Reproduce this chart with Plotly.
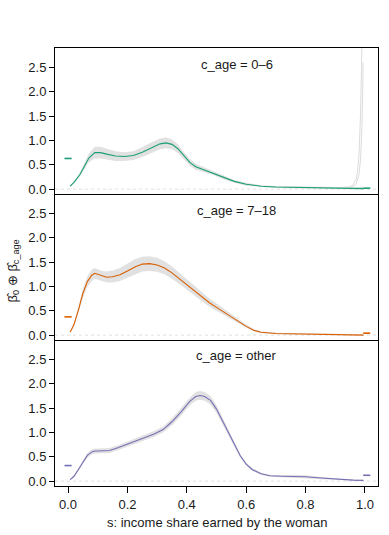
import plotly.graph_objects as go
from plotly.subplots import make_subplots

# ---------------- data ----------------
panel_titles = ["c_age = 0\u20136", "c_age = 7\u201318", "c_age = other"]
colors = ["#1b9e77", "#d95f02", "#7570b3"]

s_top = [0.007, 0.02, 0.04, 0.055, 0.07, 0.09, 0.11, 0.13, 0.16, 0.19, 0.22, 0.25, 0.28, 0.31, 0.33,
         0.35, 0.37, 0.39, 0.41, 0.43, 0.46, 0.49, 0.52, 0.56, 0.60, 0.65, 0.70, 0.75, 0.80, 0.85,
         0.90, 0.95, 0.995]
mean_top = [0.06, 0.14, 0.30, 0.48, 0.64, 0.75, 0.75, 0.72, 0.68, 0.67, 0.69, 0.76, 0.85, 0.93, 0.95,
            0.92, 0.83, 0.68, 0.55, 0.46, 0.39, 0.33, 0.25, 0.16, 0.10, 0.06, 0.045, 0.04, 0.035, 0.03,
            0.02, 0.015, 0.01]
upper_top = [0.07, 0.16, 0.34, 0.55, 0.73, 0.87, 0.87, 0.83, 0.78, 0.76, 0.78, 0.86, 0.96, 1.04, 1.06,
             1.02, 0.92, 0.76, 0.62, 0.52, 0.44, 0.37, 0.29, 0.19, 0.13, 0.08, 0.065, 0.06, 0.055, 0.05,
             0.04, 0.04, 0.05]
lower_top = [0.05, 0.12, 0.26, 0.41, 0.55, 0.63, 0.63, 0.61, 0.58, 0.58, 0.60, 0.66, 0.74, 0.82, 0.84,
             0.82, 0.74, 0.60, 0.48, 0.40, 0.34, 0.29, 0.21, 0.13, 0.07, 0.04, 0.025, 0.02, 0.015, 0.01,
             0.0, 0.0, 0.0]

spike_a_s = [0.90, 0.93, 0.95, 0.96, 0.97, 0.975, 0.98, 0.985, 0.99]
spike_a_v = [0.02, 0.03, 0.05, 0.09, 0.20, 0.35, 0.70, 1.50, 3.00]
spike_b_s = [0.93, 0.96, 0.97, 0.98, 0.985, 0.99, 0.994]
spike_b_v = [0.02, 0.05, 0.10, 0.30, 0.60, 1.30, 2.60]

s_mid = [0.007, 0.02, 0.035, 0.05, 0.065, 0.08, 0.09, 0.10, 0.115, 0.13, 0.15, 0.175, 0.20, 0.225,
         0.25, 0.275, 0.30, 0.325, 0.35, 0.375, 0.40, 0.425, 0.45, 0.475, 0.50, 0.525, 0.55, 0.575,
         0.60, 0.625, 0.65, 0.70, 0.75, 0.80, 0.85, 0.90, 0.95, 0.995]
mean_mid = [0.06, 0.22, 0.52, 0.86, 1.10, 1.23, 1.27, 1.25, 1.21, 1.19, 1.20, 1.24, 1.32, 1.40,
            1.46, 1.47, 1.44, 1.38, 1.28, 1.16, 1.03, 0.91, 0.79, 0.67, 0.57, 0.47, 0.37, 0.27,
            0.18, 0.10, 0.06, 0.035, 0.03, 0.02, 0.015, 0.01, 0.005, 0.0]
upper_mid = [0.07, 0.25, 0.58, 0.95, 1.21, 1.35, 1.38, 1.36, 1.32, 1.31, 1.33, 1.38, 1.47, 1.56,
             1.61, 1.62, 1.59, 1.52, 1.41, 1.28, 1.14, 1.01, 0.89, 0.76, 0.65, 0.54, 0.43, 0.32,
             0.22, 0.13, 0.08, 0.05, 0.045, 0.035, 0.03, 0.025, 0.02, 0.02]
lower_mid = [0.05, 0.19, 0.46, 0.77, 0.99, 1.11, 1.16, 1.14, 1.10, 1.08, 1.08, 1.11, 1.18, 1.25,
             1.31, 1.32, 1.30, 1.25, 1.16, 1.05, 0.93, 0.82, 0.70, 0.59, 0.50, 0.41, 0.32, 0.23,
             0.15, 0.08, 0.045, 0.02, 0.015, 0.01, 0.005, 0.0, 0.0, 0.0]

s_bot = [0.007, 0.02, 0.035, 0.05, 0.065, 0.08, 0.09, 0.10, 0.12, 0.14, 0.17, 0.20, 0.23, 0.26,
         0.29, 0.32, 0.35, 0.38, 0.41, 0.43, 0.445, 0.46, 0.48, 0.50, 0.52, 0.54, 0.56, 0.58, 0.60,
         0.62, 0.65, 0.68, 0.72, 0.76, 0.80, 0.84, 0.88, 0.92, 0.96, 0.995]
mean_bot = [0.03, 0.10, 0.24, 0.40, 0.53, 0.60, 0.62, 0.62, 0.62, 0.63, 0.69, 0.76, 0.83, 0.90,
            0.97, 1.06, 1.22, 1.42, 1.64, 1.74, 1.76, 1.74, 1.66, 1.48, 1.24, 0.98, 0.73, 0.52, 0.35,
            0.24, 0.15, 0.11, 0.10, 0.10, 0.09, 0.07, 0.05, 0.035, 0.02, 0.015]
upper_bot = [0.04, 0.12, 0.27, 0.44, 0.58, 0.65, 0.67, 0.67, 0.67, 0.68, 0.74, 0.81, 0.88, 0.96,
             1.03, 1.12, 1.29, 1.50, 1.72, 1.83, 1.85, 1.83, 1.75, 1.56, 1.31, 1.04, 0.78, 0.56, 0.38,
             0.27, 0.17, 0.13, 0.12, 0.13, 0.12, 0.09, 0.07, 0.05, 0.035, 0.03]
lower_bot = [0.02, 0.08, 0.21, 0.36, 0.48, 0.55, 0.57, 0.57, 0.57, 0.58, 0.64, 0.71, 0.78, 0.84,
             0.91, 1.00, 1.15, 1.34, 1.56, 1.65, 1.67, 1.65, 1.57, 1.40, 1.17, 0.92, 0.68, 0.48, 0.32,
             0.21, 0.13, 0.09, 0.08, 0.07, 0.06, 0.05, 0.03, 0.02, 0.005, 0.0]

left_mass = [0.63, 0.375, 0.32]     # effect at s = 0
right_mass = [0.02, 0.04, 0.12]     # effect at s = 1
dash_left_s = [-0.012, 0.012]
dash_right_s = [0.994, 1.018]

y_ticks = [0.0, 0.5, 1.0, 1.5, 2.0, 2.5]
x_ticks = [0.0, 0.2, 0.4, 0.6, 0.8, 1.0]

panels = [
    (s_top, mean_top, upper_top, lower_top),
    (s_mid, mean_mid, upper_mid, lower_mid),
    (s_bot, mean_bot, upper_bot, lower_bot),
]

# ---------------- figure ----------------
FONT = "Liberation Sans, Arial, Helvetica, sans-serif"
fig = make_subplots(rows=3, cols=1, vertical_spacing=0, shared_xaxes=True)
band_col = "rgba(205,205,205,0.6)"

for i, (s, m, up, lo) in enumerate(panels):
    r = i + 1
    fig.add_trace(go.Scatter(x=s, y=up, mode="lines", line=dict(width=0, color=band_col),
                             hoverinfo="skip", showlegend=False), row=r, col=1)
    fig.add_trace(go.Scatter(x=s, y=lo, mode="lines", line=dict(width=0, color=band_col),
                             fill="tonexty", fillcolor=band_col, hoverinfo="skip",
                             showlegend=False), row=r, col=1)
    if i == 0:
        fig.add_trace(go.Scatter(x=spike_a_s, y=spike_a_v, mode="lines",
                                 line=dict(width=1, color="#dcdcdc"), showlegend=False), row=r, col=1)
        fig.add_trace(go.Scatter(x=spike_b_s, y=spike_b_v, mode="lines",
                                 line=dict(width=1, color="#dcdcdc"), showlegend=False), row=r, col=1)
    fig.add_trace(go.Scatter(x=s, y=m, mode="lines", line=dict(width=1.1, color=colors[i]),
                             showlegend=False), row=r, col=1)
    fig.add_trace(go.Scatter(x=dash_left_s, y=[left_mass[i]] * 2, mode="lines",
                             line=dict(width=1.6, color=colors[i]), showlegend=False), row=r, col=1)
    fig.add_trace(go.Scatter(x=dash_right_s, y=[right_mass[i]] * 2, mode="lines",
                             line=dict(width=1.6, color=colors[i]), showlegend=False), row=r, col=1)
    fig.add_shape(type="line", xref="x domain" if r == 1 else f"x{r} domain",
                  yref="y" if r == 1 else f"y{r}", x0=0, x1=1, y0=0, y1=0,
                  line=dict(color="#d8d8d8", width=0.8, dash="dot"), layer="below")

for r in range(1, 4):
    fig.update_yaxes(row=r, col=1, range=[-0.1, 2.9], tickvals=y_ticks, tickformat=".1f",
                     ticks="outside", ticklen=5, tickwidth=1, tickcolor="black",
                     showline=True, mirror=True, linecolor="black", linewidth=1,
                     showgrid=False, zeroline=False,
                     tickfont=dict(family=FONT, size=13, color="#1a1a1a"))
    fig.update_xaxes(row=r, col=1, range=[-0.044, 1.044], showline=True,
                     mirror=(r == 1), linecolor="black", linewidth=1,
                     showgrid=False, zeroline=False)

fig.update_xaxes(row=1, col=1, showticklabels=False, ticks="")
fig.update_xaxes(row=2, col=1, showticklabels=False, ticks="")
fig.update_xaxes(row=3, col=1, tickvals=x_ticks, tickformat=".1f", ticks="outside",
                 ticklen=6, tickwidth=1, tickcolor="black", showticklabels=True,
                 tickfont=dict(family=FONT, size=13, color="#1a1a1a"))

# plot area: x 55..378.5, y 48..486
title_y = [0.962, 0.628, 0.298]
for t, yy in zip(panel_titles, title_y):
    fig.add_annotation(text=t, xref="paper", yref="paper", x=0.5626, y=yy, showarrow=False,
                       xanchor="center", yanchor="middle",
                       font=dict(family=FONT, size=13, color="#1a1a1a"))

fig.add_annotation(text="s: income share earned by the woman", xref="paper", yref="paper",
                   x=0.5, y=-0.0822, showarrow=False, xanchor="center", yanchor="middle",
                   font=dict(family=FONT, size=13, color="#1a1a1a"))
fig.add_annotation(text="\u03b2\u0302<sub>0</sub> \u2295 \u03b2\u0302<sub>c_age</sub>",
                   xref="paper", yref="paper", x=-0.13, y=0.49, textangle=-90, showarrow=False,
                   xanchor="center", yanchor="middle",
                   font=dict(family=FONT, size=13, color="#1a1a1a"))

fig.update_layout(width=389, height=535, margin=dict(l=55, r=10.5, t=48, b=49),
                  paper_bgcolor="white", plot_bgcolor="white", showlegend=False,
                  font=dict(family=FONT))

fig.write_html("out.html", config={"displayModeBar": False},
               post_script="document.body.style.margin='0px';document.body.style.overflow='hidden';")
